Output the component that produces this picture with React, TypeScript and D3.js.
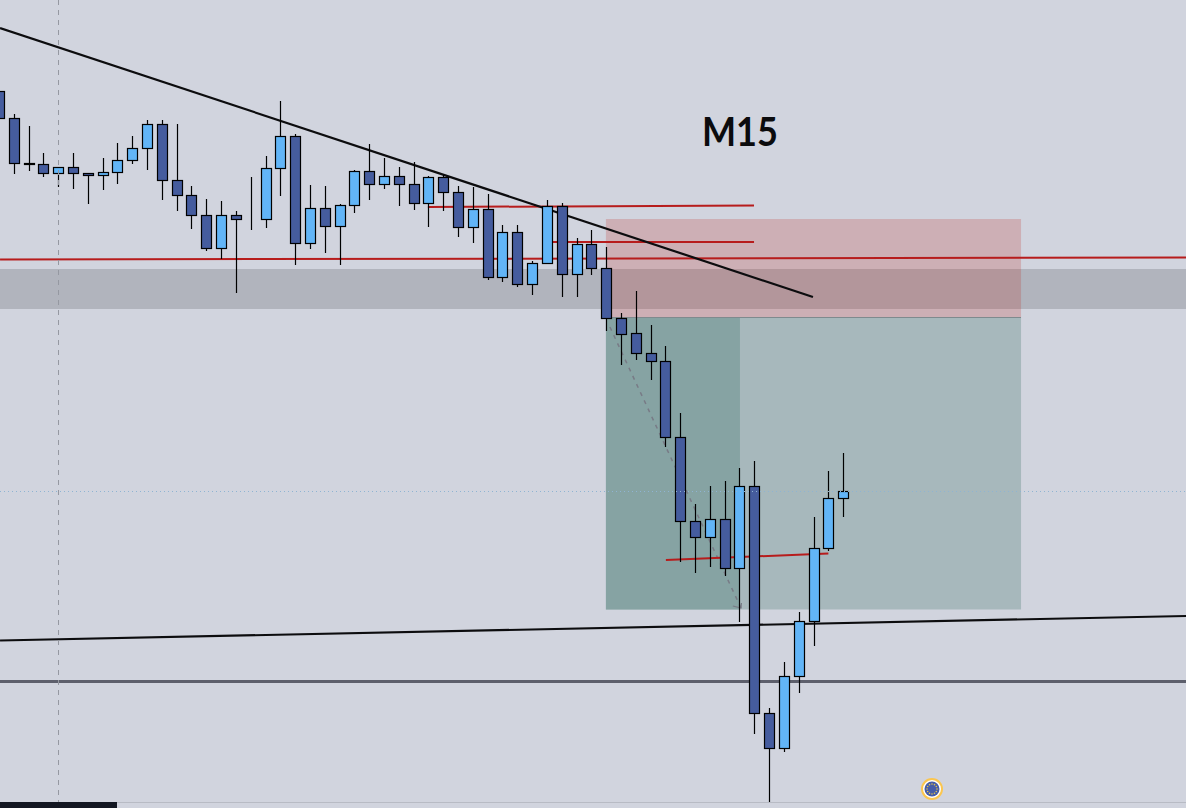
import React from "react"
import * as d3 from "d3"

const width = 1186
const height = 808

// values, in chart units above the bottom edge
const open = [717, 690, 645, 644, 635, 641, 635, 633, 636, 648, 660, 684, 628, 613, 593, 560, 593, 589, 589, 640, 672, 565, 600, 582, 603, 637, 624, 632, 624, 605, 631, 616, 581, 599, 531, 576, 524, 545, 602, 534, 564, 540, 490, 475, 455, 447, 371, 287, 271, 289, 240, 322, 95, 60, 132, 187, 260, 310]
const close = [690, 645, 644, 635, 641, 635, 633, 636, 648, 660, 684, 628, 613, 593, 560, 593, 589, 589, 640, 672, 565, 600, 582, 603, 637, 624, 632, 624, 605, 631, 616, 581, 599, 531, 576, 524, 545, 602, 534, 564, 540, 490, 474, 455, 447, 371, 287, 271, 289, 240, 322, 95, 60, 132, 187, 260, 310, 317]
const high = [717, 694, 682, 655, 641, 655, 635, 650, 665, 672, 688, 688, 684, 622, 609, 607, 597, 631, 652, 707, 674, 623, 622, 604, 638, 664, 650, 641, 646, 632, 633, 622, 621, 614, 583, 583, 547, 608, 605, 570, 578, 561, 495, 517, 483, 462, 395, 304, 322, 327, 340, 347, 100, 146, 196, 291, 337, 355]
const low = [690, 634, 637, 631, 621, 619, 604, 618, 624, 644, 638, 608, 597, 579, 557, 549, 515, 578, 580, 612, 543, 559, 555, 543, 595, 608, 619, 602, 598, 581, 597, 571, 565, 528, 526, 521, 513, 545, 511, 511, 533, 477, 443, 448, 428, 361, 246, 235, 241, 232, 186, 74, 6, 56, 115, 162, 257, 291]

// drawings as [bar, value] pairs
const blackLines = [
  [[0.04, 780], [54.93, 511]],
  [[0.04, 167.5], [80.12, 192]],
]
const redLines = [
  [[0.04, 548.5], [80.12, 550.5]],
  [[28.93, 601], [50.95, 602.5]],
  [[37, 566], [50.95, 566]],
  [[45, 248], [55.97, 254.5]],
]
const pathLine = [[41.22, 481], [50.07, 200]]
const arrowHead = [[49.52, 202], [50.07, 200], [50.1, 205]]
const greyLevel = 126.5
const dottedLevel = 317
const crosshairBar = 3.98
const bandValues = [499, 539]
const stopBox = { bars: [40.95, 68.98], values: [491, 589] }
const targetBox = { bars: [40.95, 68.98], values: [198.5, 490] }
const reachedBar = 50
const title = "M15"

const x = d3.scaleLinear().domain([0, 57]).range([-0.55, 843.62])
const y = d3.scaleLinear().domain([0, height]).range([height, 0])

const line = d3.line<number[]>().x(d => x(d[0])).y(d => y(d[1]))

const snap = (v: number) => Math.floor(v) + 0.5

const App: React.FC = () => {
  const stars = d3.range(12).map(i => (i * Math.PI) / 6)

  return (
    <svg
      width={width}
      height={height}
      viewBox={`0 0 ${width} ${height}`}
      style={{ position: "absolute", left: 0, top: 0, display: "block" }}
    >
      <rect width={width} height={height} fill="#d1d4de" />

      {/* zone band */}
      <rect x={0} width={width} y={y(bandValues[1])} height={y(bandValues[0]) - y(bandValues[1])} fill="#b1b4bd" />

      {/* position tool */}
      <rect
        x={x(targetBox.bars[0])}
        width={x(targetBox.bars[1]) - x(targetBox.bars[0])}
        y={y(targetBox.values[1])}
        height={y(targetBox.values[0]) - y(targetBox.values[1])}
        fill="#a7b8bc"
      />
      <rect
        x={x(targetBox.bars[0])}
        width={x(reachedBar) - x(targetBox.bars[0])}
        y={y(targetBox.values[1])}
        height={y(targetBox.values[0]) - y(targetBox.values[1])}
        fill="#86a3a3"
      />
      <rect
        x={x(stopBox.bars[0])}
        width={x(stopBox.bars[1]) - x(stopBox.bars[0])}
        y={y(stopBox.values[1])}
        height={y(stopBox.values[0]) - y(stopBox.values[1])}
        fill="rgb(189,32,22)"
        fillOpacity={0.2}
      />
      <line
        x1={x(stopBox.bars[0])}
        x2={x(stopBox.bars[1])}
        y1={y(stopBox.values[0]) + 0.5}
        y2={y(stopBox.values[0]) + 0.5}
        stroke="#7f8a8e"
      />

      <path d={line(pathLine as number[][]) ?? ""} fill="none" stroke="#787b86" strokeWidth={1.5} strokeDasharray="4 5" />
      <path d={line(arrowHead as number[][]) ?? ""} fill="none" stroke="#787b86" strokeWidth={1.2} />

      {redLines.map((d, i) => (
        <path key={i} d={line(d as number[][]) ?? ""} fill="none" stroke="#b71c1c" strokeWidth={2} />
      ))}
      {blackLines.map((d, i) => (
        <path key={i} d={line(d as number[][]) ?? ""} fill="none" stroke="#0c0c0e" strokeWidth={2.2} />
      ))}
      <line x1={0} x2={width} y1={y(greyLevel)} y2={y(greyLevel)} stroke="#5d5f6c" strokeWidth={3} />

      {/* candles */}
      {open.map((o, i) => {
        const c = close[i]
        const cx = snap(x(i))
        const top = Math.round(y(Math.max(o, c)))
        const bottom = Math.round(y(Math.min(o, c)))
        return (
          <g key={i}>
            <line x1={cx} x2={cx} y1={y(high[i])} y2={y(low[i])} stroke="#000" strokeWidth={1.2} />
            <rect
              x={cx - 5}
              y={top + 0.5}
              width={10}
              height={bottom - top}
              fill={c > o ? "#62b5f7" : "#455c9e"}
              stroke="#000"
              strokeWidth={1.2}
            />
          </g>
        )
      })}

      {/* crosshair */}
      <line x1={snap(x(crosshairBar))} x2={snap(x(crosshairBar))} y1={0} y2={802} stroke="#9598a1" strokeDasharray="5 5" />
      <line x1={0} x2={width} y1={y(dottedLevel) + 0.5} y2={y(dottedLevel) + 0.5} stroke="#8fb4d2" strokeDasharray="1 3" />

      <text x={702} y={146} fontFamily="Lato" fontWeight={700} fontSize={41} fill="#0b0b0d" textLength={76} lengthAdjust="spacingAndGlyphs">
        {title}
      </text>

      {/* bottom edge */}
      <line x1={117} x2={width} y1={802.5} y2={802.5} stroke="#b8bbc4" />
      <rect x={0} y={802} width={117} height={6} fill="#131722" />

      {/* event marker */}
      <g transform="translate(932,789)">
        <circle r={10} fill="#ffffff" stroke="#fbc64f" strokeWidth={2} />
        <circle r={7.5} fill="#455ca8" />
        {stars.map((a, i) => (
          <circle key={i} cx={5 * Math.cos(a)} cy={5 * Math.sin(a)} r={0.8} fill="#e0c04f" />
        ))}
      </g>
    </svg>
  )
}

export default App
